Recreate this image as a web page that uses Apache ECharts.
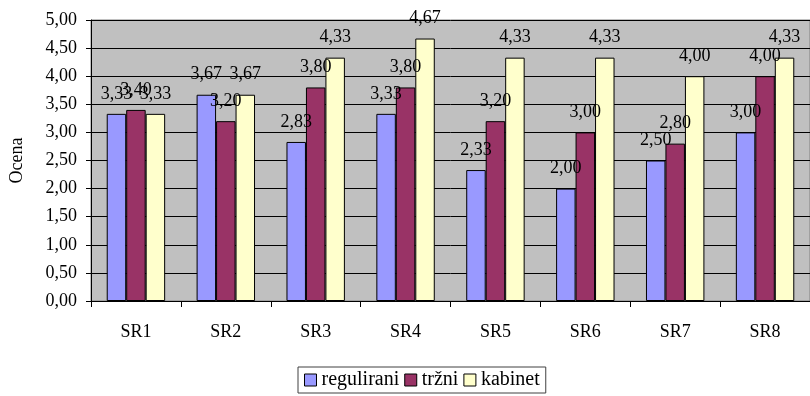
<!DOCTYPE html>
<html>
<head>
<meta charset="utf-8">
<script src="https://cdn.jsdelivr.net/npm/echarts@6/dist/echarts.min.js"></script>
<style>
  html, body { margin: 0; padding: 0; background: #fff; }
  #chart { width: 810px; height: 396px; }
</style>
</head>
<body>
<div id="chart"></div>
<script>
// Ocena po skupinah SR1–SR8
const categories = ['SR1', 'SR2', 'SR3', 'SR4', 'SR5', 'SR6', 'SR7', 'SR8'];
const seriesNames = ['regulirani', 'tržni', 'kabinet'];
const regulirani = [3.33, 3.67, 2.83, 3.33, 2.33, 2.00, 2.50, 3.00];
const trzni = [3.40, 3.20, 3.80, 3.80, 3.20, 3.00, 2.80, 4.00];
const kabinet = [3.33, 3.67, 4.33, 4.67, 4.33, 4.33, 4.00, 4.33];
const colors = ['#9999FF', '#993366', '#FFFFCC'];

const FONT = '"Liberation Serif", "Times New Roman", serif';
const fmt = v => Number(v).toFixed(2).replace('.', ',');

const chart = echarts.init(document.getElementById('chart'), null, { renderer: 'canvas' });

function barSeries(name, data, color) {
  return {
    name: name,
    type: 'bar',
    data: data,
    barGap: '0%',
    barCategoryGap: '35%',
    itemStyle: { color: color, borderColor: '#000', borderWidth: 1 },
    label: {
      show: true,
      position: 'top',
      distance: 11,
      color: '#000',
      fontFamily: FONT,
      fontSize: 18,
      formatter: p => fmt(p.value)
    },
    emphasis: { disabled: true },
    animation: false
  };
}

chart.setOption({
  animation: false,
  textStyle: { fontFamily: FONT },
  grid: {
    left: 88, top: 20, bottom: 95, right: -22,
    show: true,
    backgroundColor: '#C0C0C0',
    borderColor: '#808080',
    borderWidth: 1
  },
  legend: {
    data: seriesNames,
    left: 298,
    top: 367,
    orient: 'horizontal',
    itemWidth: 12,
    itemHeight: 12,
    itemGap: 5,
    padding: [3, 6, 3, 6],
    borderColor: '#404040',
    borderWidth: 1,
    icon: 'rect',
    itemStyle: { borderColor: '#000', borderWidth: 1 },
    textStyle: { fontFamily: FONT, fontSize: 20, color: '#000' },
    selectedMode: false
  },
  xAxis: {
    type: 'category',
    data: categories,
    axisLine: { lineStyle: { color: '#000', width: 1 } },
    axisTick: { show: true, length: 6, lineStyle: { color: '#000' } },
    axisLabel: { color: '#000', fontFamily: FONT, fontSize: 18, margin: 22 },
    splitLine: { show: false }
  },
  yAxis: {
    type: 'value',
    min: 0,
    max: 5,
    interval: 0.5,
    name: 'Ocena',
    nameLocation: 'middle',
    nameGap: 65,
    nameRotate: 90,
    nameTextStyle: { color: '#000', fontFamily: FONT, fontSize: 18 },
    axisLine: { show: true, lineStyle: { color: '#000', width: 1 } },
    axisTick: { show: true, length: 5, lineStyle: { color: '#000' } },
    axisLabel: { color: '#000', fontFamily: FONT, fontSize: 18, margin: 14, formatter: v => fmt(v) },
    splitLine: { show: true, lineStyle: { color: '#000', width: 1 } }
  },
  series: [
    barSeries(seriesNames[0], regulirani, colors[0]),
    barSeries(seriesNames[1], trzni, colors[1]),
    barSeries(seriesNames[2], kabinet, colors[2])
  ]
});
</script>
</body>
</html>
